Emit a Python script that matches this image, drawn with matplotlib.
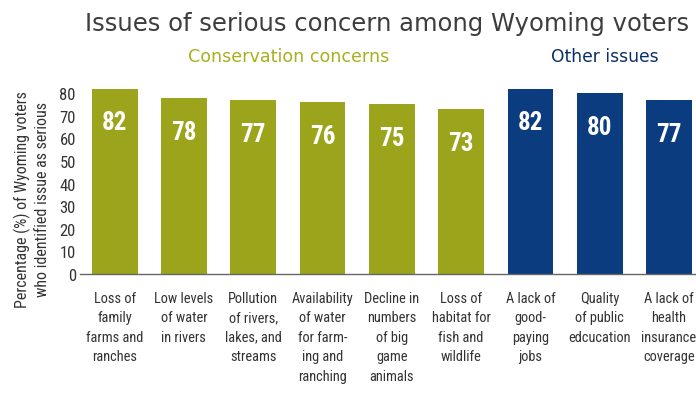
import matplotlib
matplotlib.use("Agg")
import matplotlib.pyplot as plt
from matplotlib import font_manager

categories = [
    "Loss of\nfamily\nfarms and\nranches",
    "Low levels\nof water\nin rivers",
    "Pollution\nof rivers,\nlakes, and\nstreams",
    "Availability\nof water\nfor farm-\ning and\nranching",
    "Decline in\nnumbers\nof big\ngame\nanimals",
    "Loss of\nhabitat for\nfish and\nwildlife",
    "A lack of\ngood-\npaying\njobs",
    "Quality\nof public\nedcucation",
    "A lack of\nhealth\ninsurance\ncoverage",
]
values = [82, 78, 77, 76, 75, 73, 82, 80, 77]
groups = ["Conservation concerns"] * 6 + ["Other issues"] * 3
yticks = [0, 10, 20, 30, 40, 50, 60, 70, 80]

GREEN = "#9CA41B"
BLUE = "#0B3C7F"
colors = [GREEN if g == "Conservation concerns" else BLUE for g in groups]

names = {f.name for f in font_manager.fontManager.ttflist}
condensed = None
for cand in ["Liberation Sans Narrow", "Roboto Condensed", "DejaVu Sans Condensed",
             "Open Sans Condensed", "Noto Sans Condensed", "Arial Narrow"]:
    if cand in names:
        condensed = cand
        break
if condensed:
    FAM = [condensed, "DejaVu Sans"]
    cat_fs, tick_fs, lab_fs, val_fs = 10.4, 12, 11.5, 18
else:
    FAM = ["Liberation Sans", "DejaVu Sans"]
    cat_fs, tick_fs, lab_fs, val_fs = 9.4, 11, 10, 16

fig = plt.figure(figsize=(6.96, 4.02), dpi=100)
ax = fig.add_axes([80 / 696, 127 / 402, 616 / 696, 199 / 402])

x = list(range(len(values)))
ax.bar(x, values, width=0.66, color=colors, zorder=2)
for xi, v in zip(x, values):
    ax.text(xi, v - 15, str(v), ha="center", va="center", color="white",
            fontsize=val_fs, fontweight="bold", family=FAM, zorder=3)

ax.set_xlim(-0.5, len(values) - 0.61)
ax.set_ylim(0, 88)
ax.set_yticks(yticks)
ax.set_yticklabels([str(t) for t in yticks], family=FAM, fontsize=tick_fs, color="#333333")
ax.tick_params(axis="y", length=0, pad=3)
ax.set_xticks(x)
ax.set_xticklabels(categories, family=FAM, fontsize=cat_fs, color="#333333",
                   linespacing=1.5, va="top")
ax.tick_params(axis="x", length=0, pad=12)
for s in ["top", "right", "left"]:
    ax.spines[s].set_visible(False)
ax.spines["bottom"].set_color("#666666")
ax.spines["bottom"].set_linewidth(1.0)

ax.set_ylabel("Percentage (%) of Wyoming voters\nwho identified issue as serious",
              family=FAM, fontsize=lab_fs, color="#333333", linespacing=1.35,
              labelpad=7, y=0.38)

fig.text(387 / 696, 1 - 24 / 402, "Issues of serious concern among Wyoming voters",
         ha="center", va="center", fontsize=17.5, color="#3d3d3d",
         family=["DejaVu Sans"])
fig.text(289 / 696, 1 - 57 / 402, "Conservation concerns", ha="center", va="center",
         fontsize=12.6, color="#A8B020", family=["DejaVu Sans"])
fig.text(605 / 696, 1 - 57 / 402, "Other issues", ha="center", va="center",
         fontsize=12.3, color="#0B2F6A", family=["DejaVu Sans"])

fig.savefig("out.png", dpi=100, facecolor="white")
